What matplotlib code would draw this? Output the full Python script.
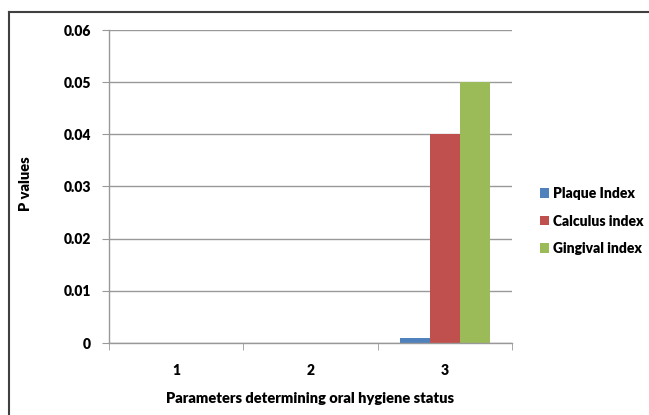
import matplotlib
matplotlib.use("Agg")
import matplotlib.pyplot as plt
from matplotlib import font_manager
from matplotlib.lines import Line2D
from matplotlib.patches import Patch
import numpy as np

categories = ["1", "2", "3"]
series_names = ["Plaque Index", "Calculus index", "Gingival index"]
plaque = [0.0, 0.0, 0.001]
calculus = [0.0, 0.0, 0.04]
gingival = [0.0, 0.0, 0.05]
yticks = [0, 0.01, 0.02, 0.03, 0.04, 0.05, 0.06]
ytick_labels = ["0", "0.01", "0.02", "0.03", "0.04", "0.05", "0.06"]
colors = ["#4F81BD", "#C0504D", "#9BBB59"]

avail = {f.name for f in font_manager.fontManager.ttflist}
fam = "Lato" if "Lato" in avail else "Liberation Sans"
plt.rcParams["font.family"] = [fam, "DejaVu Sans"]
W = "heavy"
plt.rcParams["font.weight"] = W

fig = plt.figure(figsize=(6.49, 4.15), dpi=100)
ax = fig.add_axes([109/649, 1-343/415, (512-109)/649, (343-30)/415])

x = np.arange(len(categories))
w = 1/4.5
for i, (vals, name) in enumerate(zip([plaque, calculus, gingival], series_names)):
    ax.bar(x + (i-1)*w, vals, width=w, color=colors[i], label=name, zorder=3)

ax.set_xlim(-0.5, 2.5)
ax.set_ylim(0, 0.06)
ax.set_yticks(yticks)
ax.set_yticklabels(ytick_labels, fontweight=W)
ax.set_xticks(x)
ax.set_xticklabels(categories, fontweight=W)
ax.set_xticks([-0.5, 0.5, 1.5, 2.5], minor=True)
ax.tick_params(axis="x", which="major", length=0, pad=15, labelsize=10)
ax.tick_params(axis="x", which="minor", length=5, color="#999999", direction="out")
ax.tick_params(axis="y", length=5, color="#999999", pad=8, labelsize=10)
ax.grid(axis="y", color="#999999", linewidth=1.0, zorder=0)
for s in ["top", "right"]:
    ax.spines[s].set_visible(False)
for s in ["left", "bottom"]:
    ax.spines[s].set_color("#999999")
    ax.spines[s].set_linewidth(1.0)
ax.spines["bottom"].set_zorder(4)

ax.set_xlabel("Parameters determining oral hygiene status", fontsize=10.5, fontweight=W, labelpad=11)
fig.text(25/649, 1-184/415, "P values", rotation=90, fontsize=10.5, fontweight=W, ha="center", va="center")

handles = [Patch(facecolor=c, edgecolor="none") for c in colors]
leg = fig.legend(handles, series_names, loc="center left", bbox_to_anchor=(527/649, 1-221/415),
                 frameon=False, prop={"size": 10, "weight": W}, handlelength=0.65, handleheight=0.7,
                 handletextpad=0.35, labelspacing=1.05)

# outer border (top and left visible)
fig.add_artist(Line2D([9/649, 1.0], [1-12/415, 1-12/415], color="#404040", linewidth=1.5))
fig.add_artist(Line2D([9/649, 9/649], [0.0, 1-12/415], color="#404040", linewidth=1.5))

fig.savefig("out.png", dpi=100)
